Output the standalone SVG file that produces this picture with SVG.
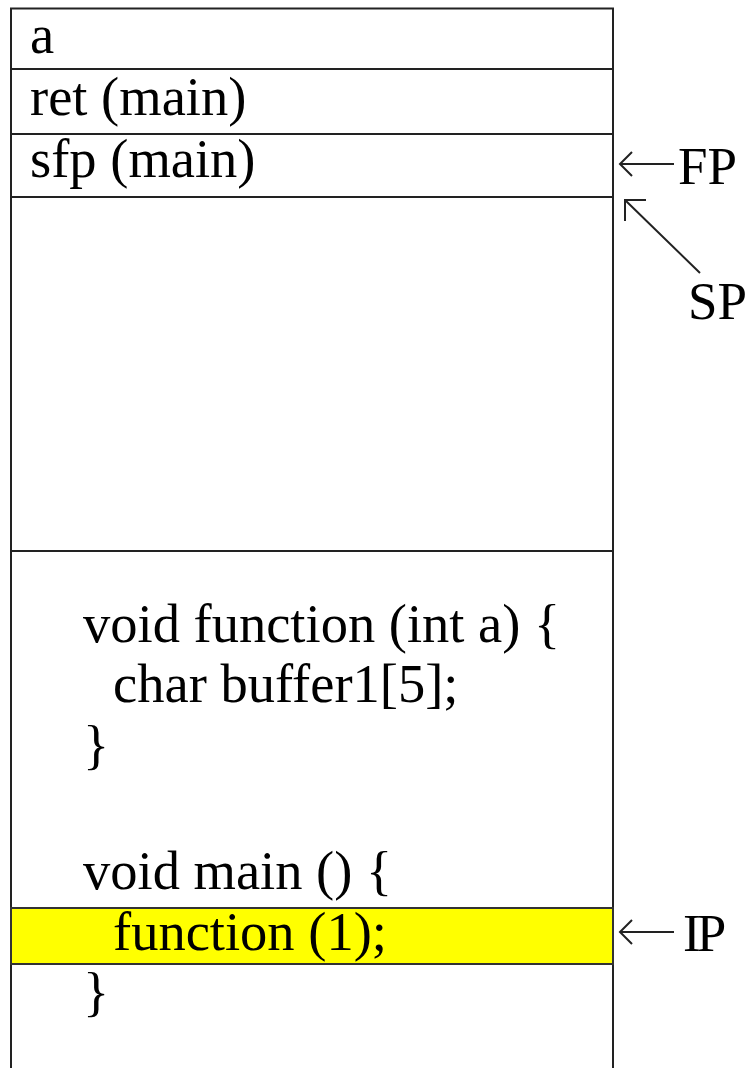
<svg xmlns="http://www.w3.org/2000/svg" width="747" height="1068" viewBox="0 0 747 1068">
<style>
.t{font-family:"Liberation Serif","Times New Roman",serif;font-size:54.5px;fill:#000}
.lbl{font-family:"Liberation Serif","Times New Roman",serif;font-size:53px;fill:#000}
.ln{stroke:#222;stroke-width:2;fill:none}
.ar{stroke:#222;stroke-width:2;fill:none}
</style>
<rect x="0" y="0" width="747" height="1068" fill="#fff"/>
<g id="stack">
<path class="ln" d="M11,1068 V8.5 H613 V1068"/>
</g>
<g id="cell-a"><text class="t" x="30" y="53">a</text></g>
<g id="sep1"><line class="ln" x1="11" y1="69" x2="613" y2="69"/></g>
<g id="cell-ret"><text class="t" x="30" y="115">ret (main)</text></g>
<g id="sep2"><line class="ln" x1="11" y1="134" x2="613" y2="134"/></g>
<g id="cell-sfp"><text class="t" x="30" y="177">sfp (main)</text></g>
<g id="sep3"><line class="ln" x1="11" y1="197" x2="613" y2="197"/></g>
<g id="sep4"><line class="ln" x1="11" y1="551" x2="613" y2="551"/></g>
<g id="code">
<text class="t" x="83" y="642">void function (int a) {</text>
<text class="t" x="113" y="702">char buffer1[5];</text>
<text class="t" x="83" y="763">}</text>
<text class="t" x="83" y="889">void main () {</text>
</g>
<g id="ip-line">
<rect x="11" y="908" width="602" height="56" fill="#ffff00" stroke="#333" stroke-width="2"/>
<text class="t" x="113" y="950">function (1);</text>
<text class="t" x="83" y="1010">}</text>
</g>
<g id="connectors">
<path class="ar" d="M674,164 H620 M632,152 L620,164 L632,176"/>
<path class="ar" d="M700,273 L625,200 M646,200 H625 V221"/>
<path class="ar" d="M674,932 H620 M632,920 L620,932 L632,944"/>
</g>
<g id="label-fp"><text class="lbl" x="678" y="184">FP</text></g>
<g id="label-sp"><text class="lbl" x="688" y="319">SP</text></g>
<g id="label-ip"><text class="lbl" x="683" y="951" letter-spacing="-4">IP</text></g>
</svg>
